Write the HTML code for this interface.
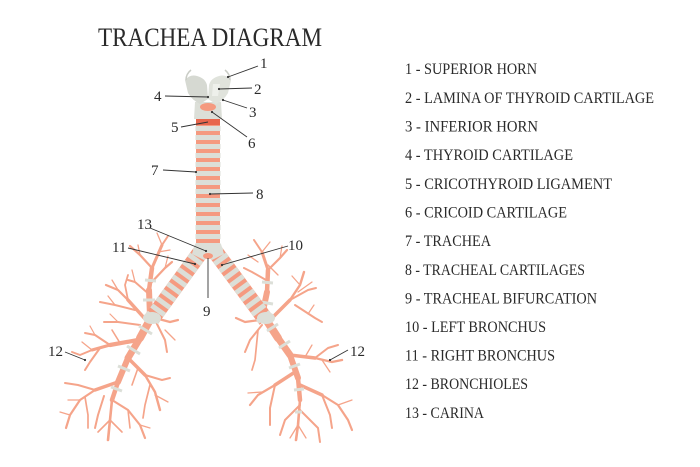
<!DOCTYPE html>
<html><head><meta charset="utf-8">
<style>
html,body{margin:0;padding:0;background:#fff;}
svg{display:block;}
text{font-family:"Liberation Serif",serif;fill:#2a2a2a;}
</style></head>
<body>
<svg width="700" height="467" viewBox="0 0 700 467" xmlns="http://www.w3.org/2000/svg">
<rect width="700" height="467" fill="#fff"/>

<!-- Title -->
<text x="98" y="46" font-size="26" textLength="224" lengthAdjust="spacingAndGlyphs">TRACHEA DIAGRAM</text>

<!-- Legend -->
<g font-size="15.5">
<text x="405" y="74" textLength="132" lengthAdjust="spacingAndGlyphs">1 - SUPERIOR HORN</text>
<text x="405" y="103" textLength="249" lengthAdjust="spacingAndGlyphs">2 - LAMINA OF THYROID CARTILAGE</text>
<text x="405" y="131.5" textLength="133" lengthAdjust="spacingAndGlyphs">3 - INFERIOR HORN</text>
<text x="405" y="160" textLength="168" lengthAdjust="spacingAndGlyphs">4 - THYROID CARTILAGE</text>
<text x="405" y="189" textLength="207" lengthAdjust="spacingAndGlyphs">5 - CRICOTHYROID LIGAMENT</text>
<text x="405" y="217.5" textLength="162" lengthAdjust="spacingAndGlyphs">6 - CRICOID CARTILAGE</text>
<text x="405" y="246" textLength="86" lengthAdjust="spacingAndGlyphs">7 - TRACHEA</text>
<text x="405" y="275" textLength="180" lengthAdjust="spacingAndGlyphs">8 - TRACHEAL CARTILAGES</text>
<text x="405" y="303.5" textLength="192" lengthAdjust="spacingAndGlyphs">9 - TRACHEAL BIFURCATION</text>
<text x="405" y="332" textLength="141" lengthAdjust="spacingAndGlyphs">10 - LEFT BRONCHUS</text>
<text x="405" y="360.5" textLength="150" lengthAdjust="spacingAndGlyphs">11 - RIGHT BRONCHUS</text>
<text x="405" y="389" textLength="123" lengthAdjust="spacingAndGlyphs">12 - BRONCHIOLES</text>
<text x="405" y="418" textLength="79" lengthAdjust="spacingAndGlyphs">13 - CARINA</text>
</g>

<!-- Bronchiole trees -->
<g stroke="#f5a48a" stroke-linecap="round" stroke-linejoin="round" fill="none">
<!-- LEFT TREE -->
<path d="M152 316 L140 338" stroke-width="8"/>
<path d="M140 338 L128 358" stroke-width="7"/>
<path d="M128 358 L118 382" stroke-width="6"/>
<path d="M118 382 L112 400" stroke-width="4.5"/>
<!-- upper -->
<path d="M150 316 L149 290" stroke-width="6"/>
<path d="M149 290 L152 268" stroke-width="4.5"/>
<path d="M152 268 L162 245" stroke-width="3"/>
<path d="M162 245 L168 236" stroke-width="2"/>
<path d="M152 268 L140 255 L130 246" stroke-width="2.2"/>
<path d="M149 285 L165 268 L172 262" stroke-width="2.2"/>
<path d="M150 295 L135 282 L128 280" stroke-width="2"/>
<path d="M162 245 L157 233" stroke-width="1.3"/>
<path d="M158 252 L170 250" stroke-width="1.3"/>
<path d="M140 255 L138 245" stroke-width="1.3"/>
<path d="M135 282 L132 270" stroke-width="1.3"/>
<path d="M165 268 L168 256" stroke-width="1.2"/>
<!-- upper left from hub -->
<path d="M146 320 L128 300" stroke-width="3.5"/>
<path d="M128 300 L118 290 L106 285" stroke-width="2.2"/>
<path d="M128 300 L125 285 L128 275" stroke-width="1.8"/>
<path d="M135 310 L115 305 L100 302" stroke-width="2"/>
<path d="M140 325 L118 322 L104 322" stroke-width="2"/>
<path d="M118 290 L112 280" stroke-width="1.3"/>
<path d="M115 305 L108 296" stroke-width="1.3"/>
<path d="M118 322 L110 314" stroke-width="1.2"/>
<!-- right hub twigs -->
<path d="M155 318 L170 322 L178 320" stroke-width="2.2"/>
<path d="M156 322 L165 340 L167 352" stroke-width="2"/>
<path d="M165 330 L175 340" stroke-width="1.3"/>
<!-- left branch -->
<path d="M138 340 L110 345" stroke-width="4.2"/>
<path d="M110 345 L92 350" stroke-width="3"/>
<path d="M92 350 L80 355 L72 352" stroke-width="2"/>
<path d="M110 345 L95 335 L85 333" stroke-width="2"/>
<path d="M100 348 L90 362 L85 370" stroke-width="2"/>
<path d="M120 343 L112 330" stroke-width="1.6"/>
<path d="M92 350 L82 342" stroke-width="1.3"/>
<path d="M95 335 L90 326" stroke-width="1.2"/>
<!-- down-right branch -->
<path d="M128 358 L145 375" stroke-width="3.5"/>
<path d="M145 375 L155 392 L160 410" stroke-width="2.4"/>
<path d="M145 375 L162 380 L170 378" stroke-width="2"/>
<path d="M150 385 L145 405 L143 418" stroke-width="1.7"/>
<path d="M155 395 L168 402" stroke-width="1.3"/>
<path d="M138 368 L132 385" stroke-width="1.6"/>
<!-- lower fan -->
<path d="M118 382 L95 390" stroke-width="3.5"/>
<path d="M95 390 L80 400 L70 415 L66 428" stroke-width="2.2"/>
<path d="M95 390 L78 385 L65 383" stroke-width="2"/>
<path d="M85 397 L88 415 L88 428" stroke-width="1.7"/>
<path d="M112 400 L110 420 L108 440" stroke-width="2.6"/>
<path d="M110 420 L98 432" stroke-width="1.6"/>
<path d="M110 420 L122 432" stroke-width="1.6"/>
<path d="M112 400 L128 410 L140 425 L145 438" stroke-width="2.2"/>
<path d="M128 410 L130 428" stroke-width="1.6"/>
<path d="M104 396 L98 415 L95 428" stroke-width="2"/>
<path d="M70 415 L60 412" stroke-width="1.3"/>
<path d="M80 400 L68 400" stroke-width="1.3"/>
<path d="M140 425 L150 428" stroke-width="1.2"/>

<!-- RIGHT TREE -->
<path d="M265 318 L278 338" stroke-width="8"/>
<path d="M278 338 L290 355" stroke-width="7"/>
<path d="M290 355 L298 378" stroke-width="6"/>
<path d="M298 378 L300 400" stroke-width="4.5"/>
<path d="M300 400 L298 425 L296 440" stroke-width="2.6"/>
<!-- upper -->
<path d="M262 316 L267 292" stroke-width="6"/>
<path d="M267 292 L268 270" stroke-width="4.5"/>
<path d="M268 270 L262 252" stroke-width="3"/>
<path d="M262 252 L254 240" stroke-width="2"/>
<path d="M268 270 L280 258 L287 250" stroke-width="2.2"/>
<path d="M266 280 L252 272 L244 268" stroke-width="2"/>
<path d="M262 252 L270 242" stroke-width="1.3"/>
<path d="M258 262 L248 255" stroke-width="1.3"/>
<path d="M268 265 L278 275" stroke-width="1.3"/>
<path d="M280 258 L282 246" stroke-width="1.2"/>
<!-- right-upper -->
<path d="M272 318 L290 300" stroke-width="3.5"/>
<path d="M290 300 L300 285 L304 272" stroke-width="2.4"/>
<path d="M290 300 L308 290 L316 288" stroke-width="2"/>
<path d="M295 305 L315 318 L322 322" stroke-width="2"/>
<path d="M298 292 L312 282" stroke-width="1.3"/>
<path d="M300 285 L292 276" stroke-width="1.3"/>
<path d="M308 314 L314 305" stroke-width="1.2"/>
<!-- left twigs -->
<path d="M260 320 L245 322 L236 318" stroke-width="2.2"/>
<path d="M262 325 L250 340 L245 352" stroke-width="2"/>
<path d="M258 330 L255 360 L252 370" stroke-width="1.7"/>
<!-- right branch 12 -->
<path d="M290 355 L315 358" stroke-width="3.5"/>
<path d="M315 358 L332 362 L342 360" stroke-width="2.4"/>
<path d="M315 358 L328 348 L338 345" stroke-width="2"/>
<path d="M322 360 L330 372" stroke-width="1.3"/>
<path d="M305 357 L312 345" stroke-width="1.3"/>
<!-- right lower -->
<path d="M300 385 L322 395" stroke-width="3.5"/>
<path d="M322 395 L338 405 L348 420 L352 430" stroke-width="2.2"/>
<path d="M322 395 L330 415 L332 428" stroke-width="2"/>
<path d="M338 405 L352 400" stroke-width="1.3"/>
<!-- left lower -->
<path d="M295 372 L275 385" stroke-width="3.5"/>
<path d="M275 385 L258 395 L250 405" stroke-width="2.2"/>
<path d="M275 385 L270 408 L270 425" stroke-width="2"/>
<path d="M262 392 L248 393" stroke-width="1.3"/>
<path d="M300 405 L285 420 L280 435" stroke-width="2"/>
<path d="M300 410 L318 428 L320 442" stroke-width="2"/>
<path d="M298 425 L290 438" stroke-width="1.3"/>
<path d="M298 425 L306 438" stroke-width="1.3"/>
</g>

<!-- grey bands on tree trunks -->
<g stroke="#dcdfd8" stroke-width="3" stroke-linecap="butt">
<path d="M139 326 L152 334"/>
<path d="M127 346 L140 354"/>
<path d="M118 366 L130 371"/>
<path d="M111 387 L122 391"/>
<path d="M143 300 L155 300"/>
<path d="M145 280 L156 281"/>
<path d="M261 302 L273 304"/>
<path d="M262 282 L273 283"/>
<path d="M267 331 L278 324"/>
<path d="M279 348 L290 341"/>
<path d="M289 368 L300 364"/>
<path d="M294 390 L304 389"/>
<path d="M295 412 L302 412"/>
</g>

<!-- Bronchi -->
<g stroke-linecap="butt">
<line x1="202" y1="250" x2="151" y2="320" stroke="#f59a80" stroke-width="16"/>
<line x1="202" y1="250" x2="151" y2="320" stroke="#dcdfd8" stroke-width="16" stroke-dasharray="5 4"/>
<line x1="214" y1="250" x2="266" y2="320" stroke="#f59a80" stroke-width="16"/>
<line x1="214" y1="250" x2="266" y2="320" stroke="#dcdfd8" stroke-width="16" stroke-dasharray="5 4"/>
</g>
<!-- hub blobs -->
<ellipse cx="152" cy="318" rx="9" ry="6" fill="#dcdfd8"/>
<ellipse cx="266" cy="318" rx="9" ry="6" fill="#dcdfd8"/>

<!-- Trachea -->
<rect x="196" y="118" width="24" height="132" fill="#f59a80"/>
<line x1="208" y1="126" x2="208" y2="250" stroke="#dcdfd8" stroke-width="25" stroke-dasharray="5 4"/>
<!-- carina junction -->
<path d="M195 244 L221 244 L224 254 L212 260 L208 258 L204 260 L192 254 Z" fill="#dcdfd8"/>
<ellipse cx="208" cy="256" rx="5" ry="3" fill="#f59a80"/>

<!-- cricoid and cricothyroid -->
<rect x="196" y="119" width="24" height="6" fill="#e8664c"/>
<path d="M195 102 L221 102 L222 119 L194 119 Z" fill="#dcdfd8"/>
<ellipse cx="208" cy="107" rx="8" ry="4" fill="#f59a80"/>

<!-- Thyroid cartilage -->
<path d="M185 80 Q190 74 197 76 Q205 78 207 85 L208 99 L200 104 Q192 100 188 93 Z" fill="#d6d9d2"/>
<path d="M231 80 Q226 74 219 76 Q211 78 209 85 L208 99 L216 104 Q224 100 228 93 Z" fill="#e0e3dc"/>
<path d="M186 80 Q186 74 191 70" stroke="#c9ccc5" stroke-width="1.5" fill="none"/>
<path d="M230 80 Q230 74 225 70" stroke="#c9ccc5" stroke-width="1.5" fill="none"/>
<path d="M213 84 L220 84 L218 96 L212 96 Z" fill="#eef0eb"/>

<!-- Pointer lines -->
<g stroke="#333" stroke-width="0.9" fill="none">
<path d="M258 66 L228 77"/>
<path d="M252 88 L219 89"/>
<path d="M247 108 L223 100"/>
<path d="M165 96 L208 97"/>
<path d="M181 127 L208 122"/>
<path d="M247 137 L212 112"/>
<path d="M163 170 L196 172"/>
<path d="M253 193 L210 194"/>
<path d="M150 228 L206 251"/>
<path d="M128 248 L195 264"/>
<path d="M288 246 L222 265"/>
<path d="M208 258 L208 298"/>
<path d="M65 352 L85 360"/>
<path d="M348 350 L330 360"/>
</g>
<g fill="#333">
<circle cx="228" cy="77" r="1.1"/>
<circle cx="219" cy="89" r="1.1"/>
<circle cx="223" cy="100" r="1.1"/>
<circle cx="208" cy="97" r="1.1"/>
<circle cx="212" cy="112" r="1.1"/>
<circle cx="196" cy="172" r="1.1"/>
<circle cx="210" cy="194" r="1.1"/>
<circle cx="206" cy="251" r="1.1"/>
<circle cx="195" cy="264" r="1.1"/>
<circle cx="222" cy="265" r="1.1"/>
<circle cx="85" cy="360" r="1.1"/>
<circle cx="330" cy="360" r="1.1"/>
</g>

<!-- Number labels -->
<g font-size="15">
<text x="260" y="68">1</text>
<text x="254" y="94">2</text>
<text x="249" y="117">3</text>
<text x="154" y="101">4</text>
<text x="171" y="132">5</text>
<text x="248" y="148">6</text>
<text x="151" y="175">7</text>
<text x="256" y="199">8</text>
<text x="137" y="229">13</text>
<text x="112" y="252">11</text>
<text x="288" y="250">10</text>
<text x="203" y="316">9</text>
<text x="48" y="356">12</text>
<text x="350" y="356">12</text>
</g>
</svg>
</body></html>
